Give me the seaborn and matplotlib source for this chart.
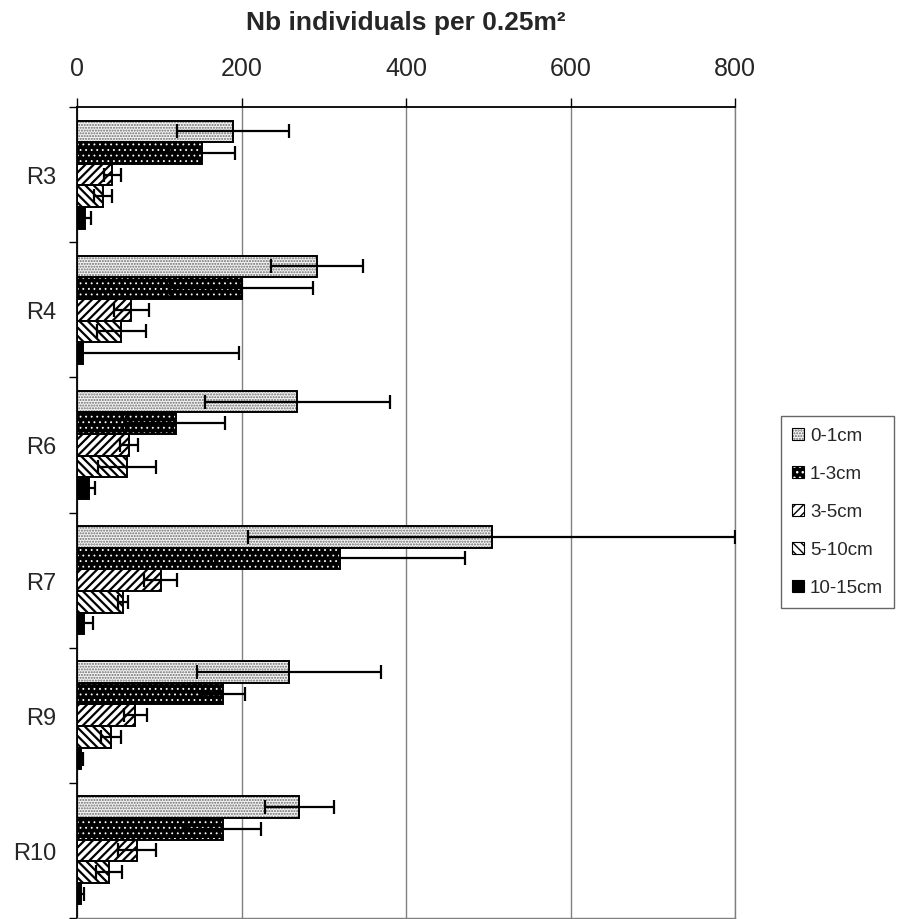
import numpy as np
import pandas as pd
import matplotlib
matplotlib.use("Agg")
import matplotlib.pyplot as plt
from matplotlib.patches import Patch, Rectangle
import seaborn as sns

# Sites and size classes
sites = ["R3", "R4", "R6", "R7", "R9", "R10"]
size_classes = ["0-1cm", "1-3cm", "3-5cm", "5-10cm", "10-15cm"]

# Mean density (individuals per 0.25 m²) per size class, one value per site
mean_0_1 = [190, 292, 268, 504, 258, 270]
mean_1_3 = [152, 200, 120, 320, 178, 178]
mean_3_5 = [43, 66, 63, 102, 71, 73]
mean_5_10 = [32, 54, 61, 56, 41, 39]
mean_10_15 = [10, 7, 15, 9, 5, 4.5]

# Standard deviations
sd_0_1 = [68, 56, 112, 296, 112, 42]
sd_1_3 = [40, 87, 60, 152, 26, 46]
sd_3_5 = [10, 21, 11, 20, 14, 23]
sd_5_10 = [11, 30, 35, 6, 12, 16]
sd_10_15 = [7, 190, 7, 10, 2.5, 4.5]

x_ticks = [0, 200, 400, 600, 800]
x_title = "Nb individuals per 0.25m²"

means = [mean_0_1, mean_1_3, mean_3_5, mean_5_10, mean_10_15]
sds = [sd_0_1, sd_1_3, sd_3_5, sd_5_10, sd_10_15]

rows = []
for cls, m_list, s_list in zip(size_classes, means, sds):
    for site, m, s in zip(sites, m_list, s_list):
        rows.append({"site": site, "size": cls, "density": m, "sd": s})
df = pd.DataFrame(rows)

sns.set_theme(style="white")
plt.rcParams["font.family"] = ["Liberation Sans", "DejaVu Sans"]
plt.rcParams["hatch.linewidth"] = 1.0

# fill colour, hatch colour, hatch pattern, hatch line width for each size class
styles = [
    ("#f4f4f4", "#6a6a6a", "......", 1.0),
    ("#000000", "#ffffff", "...", 0.6),
    ("#ffffff", "#000000", "////", 1.6),
    ("#ffffff", "#000000", "\\\\\\\\", 1.6),
    ("#000000", "#000000", None, 1.0),
]


def set_hatch_width(patch, width):
    if hasattr(patch, "set_hatch_linewidth"):
        patch.set_hatch_linewidth(width)
    else:
        patch._hatch_linewidth = width


fig = plt.figure(figsize=(8.99, 9.2), dpi=100)
ax = fig.add_axes([77 / 899, 1 - 919 / 920, (735 - 77) / 899, (919 - 108) / 920])

sns.barplot(data=df, y="site", x="density", hue="size", order=sites,
            hue_order=size_classes, orient="h", errorbar=None, width=0.8,
            dodge=True, legend=False, ax=ax)

for (face, hcol, hatch, hlw), container, m_list, s_list in zip(styles, ax.containers, means, sds):
    centers = []
    for bar in container:
        bar.set_facecolor(face)
        bar.set_edgecolor(hcol)
        bar.set_hatch(hatch)
        set_hatch_width(bar, hlw)
        bar.set_linewidth(0)
        bar.set_zorder(2)
        ax.add_patch(Rectangle(bar.get_xy(), bar.get_width(), bar.get_height(),
                               fill=False, edgecolor="black", linewidth=1.4, zorder=3))
        centers.append(bar.get_y() + bar.get_height() / 2)
    ax.errorbar(m_list, centers, xerr=s_list, fmt="none", ecolor="black",
                elinewidth=1.6, capsize=4.7, capthick=1.6, zorder=5, clip_on=True)

# Axes styling
ax.set_xlim(0, 800)
ax.set_ylim(len(sites) - 0.5, -0.5)
ax.xaxis.tick_top()
ax.set_xticks(x_ticks)
ax.set_xticklabels([str(t) for t in x_ticks], fontsize=18)
ax.tick_params(axis="x", which="major", top=True, bottom=False, direction="out",
               length=6.5, width=1, color="black", pad=13)
ax.set_yticks(range(len(sites)))
ax.set_yticklabels(sites, fontsize=17)
ax.tick_params(axis="y", which="major", length=0, pad=15)
ax.set_yticks(np.arange(-0.5, len(sites)), minor=True)
ax.tick_params(axis="y", which="minor", left=True, direction="out", length=6,
               width=1, color="black")
ax.set_xlabel("")
ax.set_ylabel("")

ax.grid(axis="x", color="#808080", linewidth=1)
ax.set_axisbelow(True)
for side in ["top", "left"]:
    ax.spines[side].set_color("black")
    ax.spines[side].set_linewidth(1.3)
for side in ["right", "bottom"]:
    ax.spines[side].set_color("#808080")
    ax.spines[side].set_linewidth(1)

fig.text(406 / 899, 1 - 30 / 920, x_title, ha="center", va="baseline",
         fontsize=19, fontweight="bold")

# Legend
handles = []
for face, hcol, hatch, hlw in styles:
    fill = Patch(facecolor=face, edgecolor=hcol, hatch=hatch, linewidth=0)
    set_hatch_width(fill, hlw)
    outline = Patch(fill=False, edgecolor="black", linewidth=0.8)
    handles.append((fill, outline))
leg = fig.legend(handles, size_classes, loc="upper left",
                 bbox_to_anchor=(781 / 899, 1 - 417 / 920), borderaxespad=0,
                 fontsize=13.5, frameon=True, fancybox=False, shadow=False,
                 handlelength=0.6, handleheight=0.6, handletextpad=0.35,
                 labelspacing=1.12, borderpad=0.6)
leg.get_frame().set_edgecolor("#404040")
leg.get_frame().set_linewidth(1)

fig.savefig("out.png", dpi=100)
